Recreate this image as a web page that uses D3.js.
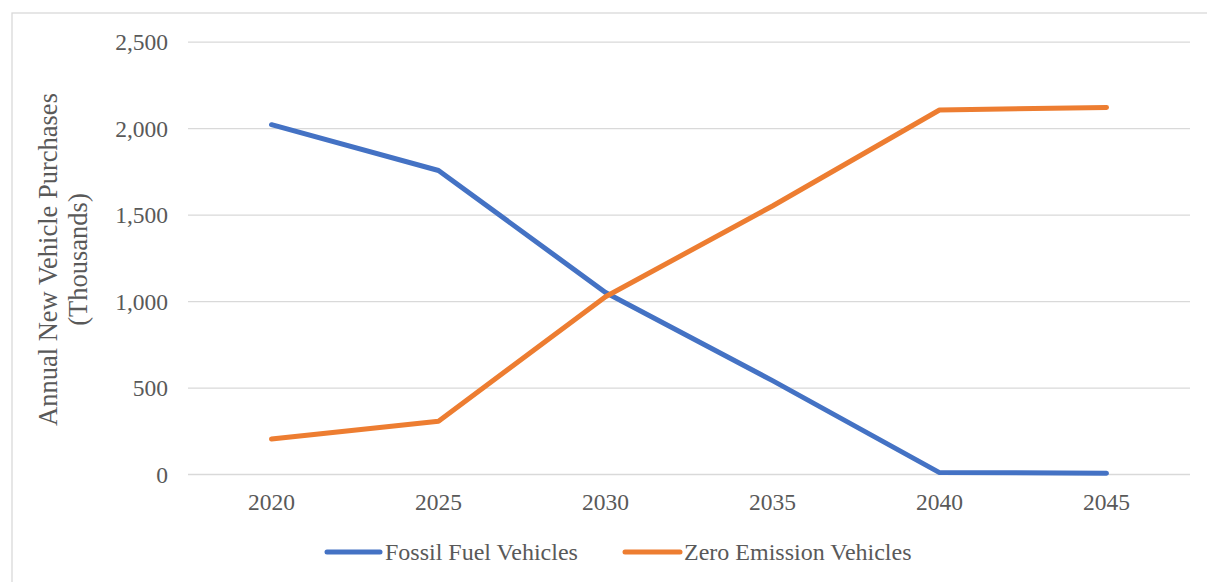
<!DOCTYPE html>
<html>
<head>
<meta charset="utf-8">
<script src="https://cdn.jsdelivr.net/npm/d3@7"></script>
<style>
  html, body { margin: 0; padding: 0; background: #fff; }
  svg { display: block; }
  text { font-family: "Liberation Serif", "Times New Roman", serif; fill: #595959; }
</style>
</head>
<body>
<svg id="chart" width="1207" height="582"></svg>
<script>
const categories = ["2020", "2025", "2030", "2035", "2040", "2045"];
const fossilValues = [2020, 1755, 1050, 540, 8, 5];
const zeroValues = [202, 305, 1025, 1550, 2105, 2120];
const yTicks = [0, 500, 1000, 1500, 2000, 2500];
const seriesNames = ["Fossil Fuel Vehicles", "Zero Emission Vehicles"];
const seriesColors = ["#4472c4", "#ed7d31"];

const svg = d3.select("#chart");
const W = 1207, H = 582;
const plot = { left: 188, right: 1190, top: 41.7, bottom: 474 };
const FONT = '"Liberation Serif", "Times New Roman", serif';

// outer chart border (extends off canvas on right/bottom)
svg.append("rect")
  .attr("x", 12).attr("y", 13)
  .attr("width", W + 20).attr("height", H + 20)
  .attr("fill", "#fff").attr("stroke", "#d9d9d9").attr("stroke-width", 1.3);

const x = d3.scaleBand().domain(categories).range([plot.left, plot.right]);
const y = d3.scaleLinear().domain([0, 2500]).range([plot.bottom, plot.top]);

// gridlines + y tick labels
const yAxis = d3.axisLeft(y).tickValues(yTicks).tickSize(-(plot.right - plot.left))
  .tickFormat(d3.format(",")).tickPadding(20);
const gy = svg.append("g").attr("transform", `translate(${plot.left},0)`).call(yAxis);
gy.select(".domain").remove();
gy.selectAll(".tick line").attr("stroke", "#d9d9d9").attr("stroke-width", 1.3);
gy.selectAll(".tick text").attr("font-size", 23.5).style("font-family", FONT)
  .attr("fill", "#595959").attr("dy", "0.34em");

// x axis labels
const xAxis = d3.axisBottom(x).tickSize(0).tickPadding(0);
const gx = svg.append("g").attr("transform", `translate(0,${plot.bottom})`).call(xAxis);
gx.select(".domain").remove();
gx.selectAll(".tick text").attr("font-size", 23.5).style("font-family", FONT)
  .attr("fill", "#595959").attr("dy", null).attr("y", 36);

// lines
const allSeries = [fossilValues, zeroValues];
const line = d3.line()
  .x((d, i) => x(categories[i]) + x.bandwidth() / 2)
  .y(d => y(d));
allSeries.forEach((vals, k) => {
  svg.append("path")
    .datum(vals)
    .attr("d", line)
    .attr("fill", "none")
    .attr("stroke", seriesColors[k])
    .attr("stroke-width", 5)
    .attr("stroke-linecap", "round")
    .attr("stroke-linejoin", "round");
});

// y axis title
const yt = svg.append("text")
  .attr("transform", `translate(57,259.5) rotate(-90)`)
  .attr("text-anchor", "middle")
  .attr("font-size", 26.5);
yt.append("tspan").attr("x", 0).attr("dy", 0).text("Annual New Vehicle Purchases");
yt.append("tspan").attr("x", 0).attr("dy", 30).text("(Thousands)");

// legend
const legendItems = [
  { x0: 327, x1: 380, tx: 385 },
  { x0: 625, x1: 680, tx: 684 }
];
legendItems.forEach((it, k) => {
  svg.append("line")
    .attr("x1", it.x0).attr("x2", it.x1)
    .attr("y1", 552).attr("y2", 552)
    .attr("stroke", seriesColors[k]).attr("stroke-width", 5)
    .attr("stroke-linecap", "round");
  svg.append("text")
    .attr("x", it.tx).attr("y", 560)
    .attr("font-size", 24)
    .text(seriesNames[k]);
});
</script>
</body>
</html>
